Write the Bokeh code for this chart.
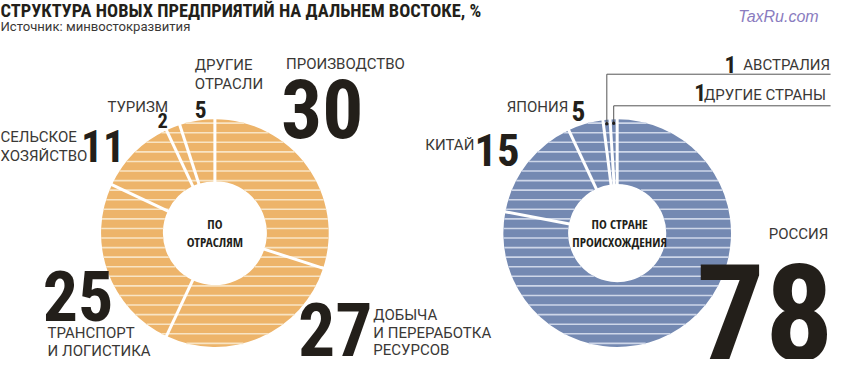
import math
import numpy as np
from bokeh.plotting import figure
from bokeh.models import Range1d
from bokeh.core.properties import value
from bokeh.embed import file_html
from bokeh.resources import INLINE

# ---------------- data ----------------
title_text = "СТРУКТУРА НОВЫХ ПРЕДПРИЯТИЙ НА ДАЛЬНЕМ ВОСТОКЕ, %"
source_text = "Источник: минвостокразвития"
watermark_text = "TaxRu.com"

industry_names = ["ПРОИЗВОДСТВО", "ДОБЫЧА\nИ ПЕРЕРАБОТКА\nРЕСУРСОВ", "ТРАНСПОРТ\nИ ЛОГИСТИКА",
                  "СЕЛЬСКОЕ\nХОЗЯЙСТВО", "ТУРИЗМ", "ДРУГИЕ\nОТРАСЛИ"]
industry_values = [30, 27, 25, 11, 2, 5]
industry_center = "ПО\nОТРАСЛЯМ"

country_names = ["РОССИЯ", "КИТАЙ", "ЯПОНИЯ", "АВСТРАЛИЯ", "ДРУГИЕ СТРАНЫ"]
country_values = [78, 15, 5, 1, 1]
country_center = "ПО СТРАНЕ\nПРОИСХОЖДЕНИЯ"

# ---------------- layout / style ----------------
W, H = 834, 359
XL, XR = 0, 850
YT, YB = 0, 375          # reference pixel rows shown
SX = W / (XR - XL)
SY = H / (YB - YT)
FS = 0.97                # font scale
CAP_K = 0.355            # half cap-height (text is drawn centred on its anchor)

def Y(v):
    return 375 - v

NUMF = "Roboto Condensed"
CENTF = "Open Sans Condensed"
REG = "Roboto"
DARK = "#231F1A"
LABEL = "#3A3836"

ORANGE, ORANGE_LINE = "#EDB46A", "#F8E4C4"
BLUE, BLUE_LINE = "#7489B2", "#CDD6E8"

p = figure(width=W, height=H, output_backend="svg", toolbar_location=None,
           x_range=Range1d(XL, XR), y_range=Range1d(Y(YB), Y(YT)),
           min_border=0, outline_line_color=None, background_fill_color="white",
           border_fill_color="white")
p.axis.visible = False
p.grid.visible = False


def txt(x, yb, t, size, font=REG, bold=False, align="left", color=LABEL, italic=False):
    """Place text so that its baseline sits at reference row yb."""
    style = "bold" if bold else ("italic" if italic else "normal")
    ydata = Y(yb) + CAP_K * size * FS / SY
    p.text(x=[x], y=[ydata], text=[t], text_font=value(font),
           text_font_size=f"{size * FS:.1f}px", text_font_style=style,
           text_align=align, text_baseline="alphabetic", text_color=color)


def donut(cx, cy_ref, r_in, r_out, values, color, line_color, period, phase):
    cy = Y(cy_ref)
    cum = np.concatenate([[0.0], np.cumsum(values)]) / float(sum(values))
    starts = np.pi / 2 - 2 * np.pi * cum[:-1]
    ends = np.pi / 2 - 2 * np.pi * cum[1:]
    p.annular_wedge(x=cx, y=cy, inner_radius=r_in, outer_radius=r_out,
                    start_angle=starts, end_angle=ends, direction="clock",
                    fill_color=color, line_color=None)
    # horizontal stripes (screen geometry)
    R, r = r_out * SX, r_in * SX
    x0s, x1s, ys = [], [], []
    yy = cy_ref - r_out * SX / SY + phase
    while yy < cy_ref + r_out * SX / SY:
        dy = (yy - cy_ref) * SY
        if abs(dy) < R:
            ho = math.sqrt(R * R - dy * dy) / SX
            if abs(dy) < r:
                hi = math.sqrt(r * r - dy * dy) / SX
                segs = [(cx - ho, cx - hi), (cx + hi, cx + ho)]
            else:
                segs = [(cx - ho, cx + ho)]
            for a, b in segs:
                x0s.append(a); x1s.append(b); ys.append(Y(yy))
        yy += period
    p.segment(x0=x0s, y0=ys, x1=x1s, y1=ys, line_color=line_color, line_width=1.6)
    # white separators
    sx0, sy0, sx1, sy1 = [], [], [], []
    for c in cum[:-1]:
        th = 2 * np.pi * c
        sx0.append(cx + (r_in - 2) * math.sin(th))
        sy0.append(cy + (r_in - 2) * SX * math.cos(th) / SY)
        sx1.append(cx + (r_out + 2) * math.sin(th))
        sy1.append(cy + (r_out + 2) * SX * math.cos(th) / SY)
    p.segment(x0=sx0, y0=sy0, x1=sx1, y1=sy1, line_color="white", line_width=3)
    return cum


# ---------------- left donut ----------------
LCX, LCY = 218.5, 243
donut(LCX, LCY, 53, 116, industry_values, ORANGE, ORANGE_LINE, 10, 4)

ind_label_pos = [(291, [72]), (380, [334, 353, 371]), (48, [353, 372]),
                 (0, [148, 168]), (109, [117]), (198, [73, 93])]
ind_num_pos = [(286, 143, 84, "left"), (379, 371, 76, "right"), (43, 335, 72, "left"),
               (127, 168, 45, "right"), (160, 133, 21, "left"), (198, 122, 24, "left")]
for name, v, (lx, lys), (nx, ny, ns, al) in zip(industry_names, industry_values,
                                                 ind_label_pos, ind_num_pos):
    for line, ly in zip(name.split("\n"), lys):
        txt(lx, ly, line, 15.5)
    txt(nx, ny, str(v), ns, font=NUMF, bold=True, color=DARK, align=al)

for line, ly in zip(industry_center.split("\n"), [238, 257]):
    txt(218.5, ly, line, 13.5, font=CENTF, bold=True, align="center", color=DARK)

# ---------------- right donut ----------------
RCX, RCY = 628.5, 243
cum_c = donut(RCX, RCY, 50, 116, country_values, BLUE, BLUE_LINE, 10, 4)

cty_label_pos = [(783, 250), (433, 157), (516, 117), (757, 73), (717, 104)]
cty_num_pos = [(849, 376, 140, "right"), (483, 173, 46, "left"), (582, 125, 28, "left"),
               (750, 75, 24, "right"), (719, 105, 24, "right")]
for name, v, (lx, ly), (nx, ny, ns, al) in zip(country_names, country_values,
                                                cty_label_pos, cty_num_pos):
    txt(lx, ly, name, 15.5)
    txt(nx, ny, str(v), ns, font=NUMF, bold=True, color=DARK, align=al)

for line, ly in zip(country_center.split("\n"), [238, 257]):
    txt(631, ly, line, 13.5, font=CENTF, bold=True, align="center", color=DARK)

# leader lines for the two smallest slices
leader_y = [77, 110]
lx0, ly0, lx1, ly1, dots_x, dots_y = [], [], [], [], [], []
for i, ly in zip([3, 4], leader_y):
    mid = 2 * np.pi * (cum_c[i] + cum_c[i + 1]) / 2
    rr = 112
    dx = RCX + rr * math.sin(mid)
    dyv = Y(RCY) + rr * SX * math.cos(mid) / SY
    lx0 += [dx, dx]; ly0 += [dyv, Y(ly)]
    lx1 += [dx, 846]; ly1 += [Y(ly), Y(ly)]
    dots_x.append(dx); dots_y.append(dyv)
p.segment(x0=lx0, y0=ly0, x1=lx1, y1=ly1, line_color="#555555", line_width=1)
p.scatter(x=dots_x, y=dots_y, size=3.5, fill_color=DARK, line_color=None)

# ---------------- titles ----------------
txt(0, 17, title_text, 19, font=NUMF, bold=True, color=DARK)
txt(0, 32, source_text, 13.5, color=LABEL)
txt(752, 23, watermark_text, 16.5, font="Liberation Sans", italic=True, color="#8A7CC0")

open("out.html", "w").write(file_html(p, INLINE))
